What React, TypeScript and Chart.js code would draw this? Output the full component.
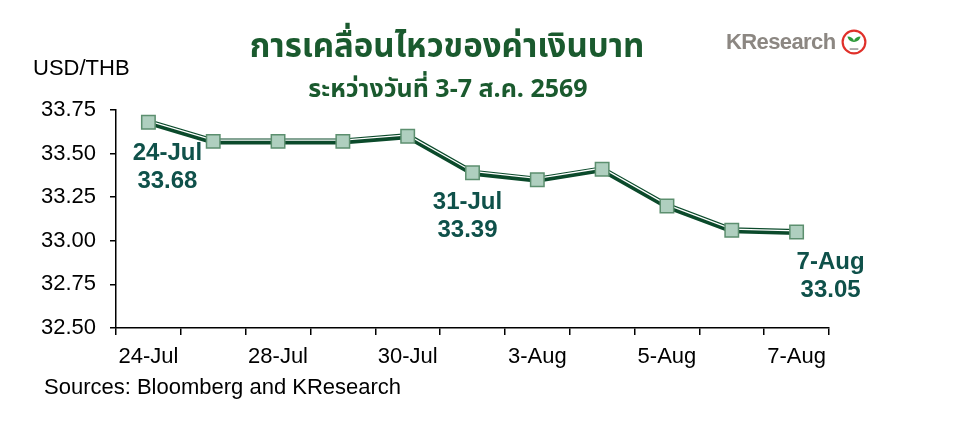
import React, { useEffect, useRef } from "react";
import { Chart, registerables } from "chart.js";

Chart.register(...registerables);

// ---- data ----
const categories = ["24-Jul", "27-Jul", "28-Jul", "29-Jul", "30-Jul", "31-Jul", "3-Aug", "4-Aug", "5-Aug", "6-Aug", "7-Aug"];
const usdThb = [33.68, 33.57, 33.57, 33.57, 33.6, 33.39, 33.35, 33.41, 33.2, 33.06, 33.05];
const annotatedIndices = [0, 5, 10];
const yMin = 32.5;
const yMax = 33.75;
const yStep = 0.25;

const titleText = "การเคลื่อนไหวของค่าเงินบาท";
const subtitleText = "ระหว่างวันที่ 3-7 ส.ค. 2569";
const unitText = "USD/THB";
const sourceText = "Sources: Bloomberg and KResearch";
const logoText = "KResearch";

// label offsets (style, not data)
const annotationOffsets = [
  { dx: 19, dy: 31 },
  { dx: -5, dy: 30 },
  { dx: 34, dy: 30 },
];

const FONT = "'Liberation Sans', Arial, sans-serif";
const THAI_FONT = "'Noto Sans Thai', 'Leelawadee UI', Tahoma, 'Loma', 'Garuda', 'DejaVu Sans', sans-serif";

const highlightPlugin = {
  id: "highlightOffset",
  beforeDatasetDraw(chart: any, args: any) {
    if (args.index === 1) {
      chart.ctx.save();
      chart.ctx.translate(0, -1.3);
    }
  },
  afterDatasetDraw(chart: any, args: any) {
    if (args.index === 1) chart.ctx.restore();
  },
};

const annotationPlugin = {
  id: "pointAnnotations",
  afterDatasetsDraw(chart: any) {
    const ctx = chart.ctx;
    const meta = chart.getDatasetMeta(2);
    ctx.save();
    ctx.fillStyle = "#0F514A";
    ctx.font = `bold 24px ${FONT}`;
    ctx.textAlign = "center";
    ctx.textBaseline = "middle";
    annotatedIndices.forEach((idx, k) => {
      const el = meta.data[idx];
      const off = annotationOffsets[k];
      const x = el.x + off.dx;
      const y = el.y + off.dy;
      ctx.fillText(categories[idx], x, y);
      ctx.fillText(usdThb[idx].toFixed(2), x, y + 28);
    });
    ctx.restore();
  },
};

function ChartCanvas() {
  const ref = useRef<HTMLCanvasElement | null>(null);
  useEffect(() => {
    if (!ref.current) return;
    const chart = new Chart(ref.current, {
      type: "line",
      data: {
        labels: categories,
        datasets: [
          {
            data: usdThb,
            borderColor: "#0B4A2B",
            borderWidth: 6,
            pointRadius: 0,
            tension: 0,
            order: 3,
          },
          {
            data: usdThb,
            borderColor: "#FFFFFF",
            borderWidth: 1.3,
            pointRadius: 0,
            tension: 0,
            order: 2,
          },
          {
            data: usdThb,
            showLine: false,
            pointStyle: "rect",
            pointRadius: 9.5,
            pointBackgroundColor: "#AFCFBF",
            pointBorderColor: "#5C8F6F",
            pointBorderWidth: 1.5,
            order: 1,
          },
        ],
      },
      options: {
        animation: false,
        responsive: false,
        devicePixelRatio: 1,
        layout: { padding: { top: 110, right: 131, left: 0, bottom: 0 } },
        plugins: {
          legend: { display: false },
          tooltip: { enabled: false },
        },
        scales: {
          x: {
            type: "category",
            offset: true,
            grid: {
              offset: true,
              drawOnChartArea: false,
              drawTicks: true,
              tickLength: 7,
              color: "#000",
              lineWidth: 1.5,
            },
            border: { color: "#000", width: 1.5 },
            ticks: {
              autoSkip: false,
              maxRotation: 0,
              padding: 9,
              color: "#000",
              font: { family: FONT, size: 22 },
              callback: (_v: any, i: number) => (i % 2 === 0 ? categories[i] : ""),
            },
            afterFit: (s: any) => {
              s.height = 93;
            },
          },
          y: {
            min: yMin,
            max: yMax,
            grid: {
              drawOnChartArea: false,
              drawTicks: true,
              tickLength: 6,
              color: "#000",
              lineWidth: 1.5,
            },
            border: { color: "#000", width: 1.5 },
            ticks: {
              stepSize: yStep,
              padding: 14,
              color: "#000",
              font: { family: FONT, size: 22 },
              callback: (v: any) => Number(v).toFixed(2),
            },
            afterFit: (s: any) => {
              s.width = 116;
            },
          },
        },
      },
      plugins: [highlightPlugin, annotationPlugin],
    });
    return () => chart.destroy();
  }, []);
  return <canvas ref={ref} width={960} height={421} style={{ position: "absolute", left: 0, top: 0 }} />;
}

export default function App() {
  return (
    <div style={{ position: "fixed", left: 0, top: 0, width: 960, height: 421, background: "#fff", overflow: "hidden" }}>
      <ChartCanvas />
      <div
        style={{
          position: "absolute",
          left: 0,
          width: 894,
          top: 27,
          textAlign: "center",
          fontFamily: THAI_FONT,
          fontWeight: "bold",
          fontSize: 33,
          lineHeight: "40px",
          color: "#1A5A2E",
        }}
      >
        {titleText}
      </div>
      <div
        style={{
          position: "absolute",
          left: 0,
          width: 896,
          top: 74,
          textAlign: "center",
          fontFamily: THAI_FONT,
          fontWeight: "bold",
          fontSize: 25,
          lineHeight: "30px",
          color: "#1A5A2E",
        }}
      >
        {subtitleText}
      </div>
      <div
        style={{
          position: "absolute",
          left: 33,
          top: 56,
          fontFamily: FONT,
          fontSize: 22,
          lineHeight: "24px",
          color: "#000",
        }}
      >
        {unitText}
      </div>
      <div
        style={{
          position: "absolute",
          left: 44,
          top: 375,
          fontFamily: FONT,
          fontSize: 22,
          lineHeight: "24px",
          color: "#000",
        }}
      >
        {sourceText}
      </div>
      <div
        style={{
          position: "absolute",
          left: 726,
          top: 29,
          display: "flex",
          alignItems: "center",
          fontFamily: FONT,
          fontWeight: "bold",
          fontSize: 22,
          lineHeight: "26px",
          color: "#8C8782",
          letterSpacing: -0.6,
        }}
      >
        <span>{logoText}</span>
        <svg width="26" height="26" viewBox="0 0 24 24" style={{ marginLeft: 5 }}>
          <circle cx="12" cy="12" r="10.5" fill="#fff" stroke="#E0302A" strokeWidth="2" />
          <path d="M12 18 L12 12 C9 12 6.5 10 6 7 C9 7 11.5 8.5 12 11 C12.5 8.5 15 7 18 7 C17.5 10 15 12 12 12" fill="#2E9A3A" />
          <path d="M8 18.5 L16 18.5" stroke="#9A9A9A" strokeWidth="1.5" />
        </svg>
      </div>
    </div>
  );
}
